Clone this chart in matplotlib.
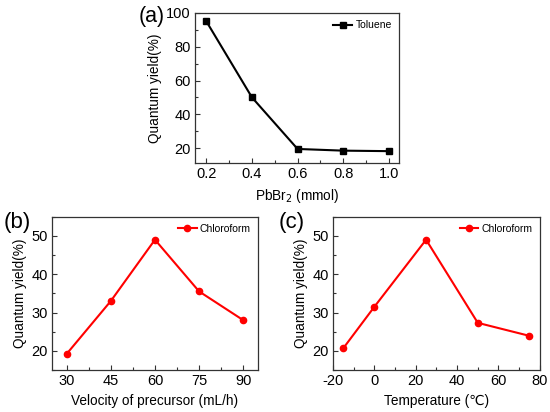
import matplotlib
matplotlib.use("Agg")
import matplotlib.pyplot as plt
from matplotlib.ticker import AutoMinorLocator

plt.rcParams['font.family'] = ['Liberation Sans', 'DejaVu Sans']
plt.rcParams['axes.unicode_minus'] = False

# (a) PbBr2 amount, toluene
pb_mmol = [0.2, 0.4, 0.6, 0.8, 1.0]
qy_toluene = [95, 50, 19.5, 18.5, 18.2]

# (b) precursor velocity, chloroform
velocity = [30, 45, 60, 75, 90]
qy_velocity = [19.2, 33, 49, 35.5, 28]

# (c) temperature, chloroform
temperature = [-15, 0, 25, 50, 75]
qy_temp = [20.7, 31.5, 49, 27.3, 23.9]


def style_axes(ax):
    for s in ax.spines.values():
        s.set_color('#333333')
        s.set_linewidth(0.9)
    ax.xaxis.set_minor_locator(AutoMinorLocator(2))
    ax.yaxis.set_minor_locator(AutoMinorLocator(2))
    ax.tick_params(which='both', direction='in', labelsize=10.5, colors='#333333',
                   labelcolor='black', width=0.8)
    ax.tick_params(which='major', length=3.5, pad=3)
    ax.tick_params(which='minor', length=2)
    ax.set_ylabel('Quantum yield(%)', fontsize=9.8, labelpad=3)
    ax.legend(loc='upper right', frameon=False, fontsize=7.5, handlelength=1.8,
              handletextpad=0.3, borderaxespad=0.3)


fig = plt.figure(figsize=(5.5, 4.12), dpi=100)

ax_a = fig.add_axes([0.3545, 0.6036, 0.371, 0.365])
ax_a.plot(pb_mmol, qy_toluene, color='black', marker='s', markersize=4,
          linewidth=1.5, label='Toluene')
ax_a.set_xlim(0.15, 1.045)
ax_a.set_ylim(11, 100)
ax_a.set_xticks([0.2, 0.4, 0.6, 0.8, 1.0])
ax_a.set_yticks([20, 40, 60, 80, 100])
ax_a.set_xlabel('PbBr$_2$ (mmol)', fontsize=9.8, labelpad=4)
style_axes(ax_a)
fig.text(0.252, 0.985, '(a)', fontsize=15.5, va='top')

ax_b = fig.add_axes([0.0945, 0.102, 0.3745, 0.372])
ax_b.plot(velocity, qy_velocity, color='#ff0000', marker='o', markersize=4.5,
          linewidth=1.5, label='Chloroform')
ax_b.set_xlim(25, 95)
ax_b.set_ylim(15, 55)
ax_b.set_xticks([30, 45, 60, 75, 90])
ax_b.set_yticks([20, 30, 40, 50])
ax_b.set_xlabel('Velocity of precursor (mL/h)', fontsize=9.8, labelpad=4)
style_axes(ax_b)
fig.text(0.006, 0.485, '(b)', fontsize=16, va='top')

ax_c = fig.add_axes([0.6055, 0.102, 0.376, 0.372])
ax_c.plot(temperature, qy_temp, color='#ff0000', marker='o', markersize=4.5,
          linewidth=1.5, label='Chloroform')
ax_c.set_xlim(-20, 80)
ax_c.set_ylim(15, 55)
ax_c.set_xticks([-20, 0, 20, 40, 60, 80])
ax_c.set_yticks([20, 30, 40, 50])
ax_c.set_xlabel('Temperature (\u2103)', fontsize=9.8, labelpad=4)
style_axes(ax_c)
fig.text(0.507, 0.485, '(c)', fontsize=16, va='top')

fig.savefig('out.png', dpi=100)
